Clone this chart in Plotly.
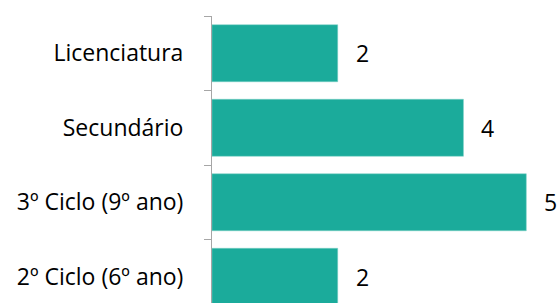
import plotly.graph_objects as go

categories = ["2º Ciclo (6º ano)", "3º Ciclo (9º ano)", "Secundário", "Licenciatura"]
values = [2, 5, 4, 2]

bar_color = "#1BAB9B"
font_family = "'Open Sans', sans-serif"
fsize = 23

fig = go.Figure(go.Bar(
    x=values, y=categories, orientation="h",
    marker=dict(color=bar_color, line=dict(color="#7fd0c6", width=0.5)),
    hoverinfo="skip",
))

for c, v in zip(categories, values):
    fig.add_annotation(x=v, y=c, text=str(v), showarrow=False,
                       xanchor="left", xshift=16,
                       font=dict(family=font_family, size=fsize, color="#000000"))

fig.update_layout(
    width=559, height=303,
    margin=dict(l=212, r=0, t=16, b=0, autoexpand=False),
    paper_bgcolor="white", plot_bgcolor="white",
    bargap=0.235,
    showlegend=False,
    font=dict(family=font_family, size=fsize, color="#000000"),
    xaxis=dict(range=[0, 5.52], visible=False, fixedrange=True, automargin=False),
    yaxis=dict(
        type="category", categoryorder="array", categoryarray=categories,
        range=[-0.352, 3.5], automargin=False,
        showline=True, linecolor="#A6A6A6", linewidth=1,
        ticks="outside", tickson="boundaries", ticklen=7, tickcolor="#A6A6A6",
        showgrid=False, zeroline=False,
        ticklabelstandoff=23,
        tickfont=dict(family=font_family, size=fsize, color="#000000"),
    ),
)

fig.write_html(
    "out.html",
    config={"displayModeBar": False, "staticPlot": True},
    post_script="document.body.style.margin='0';document.body.style.overflow='hidden';",
)
